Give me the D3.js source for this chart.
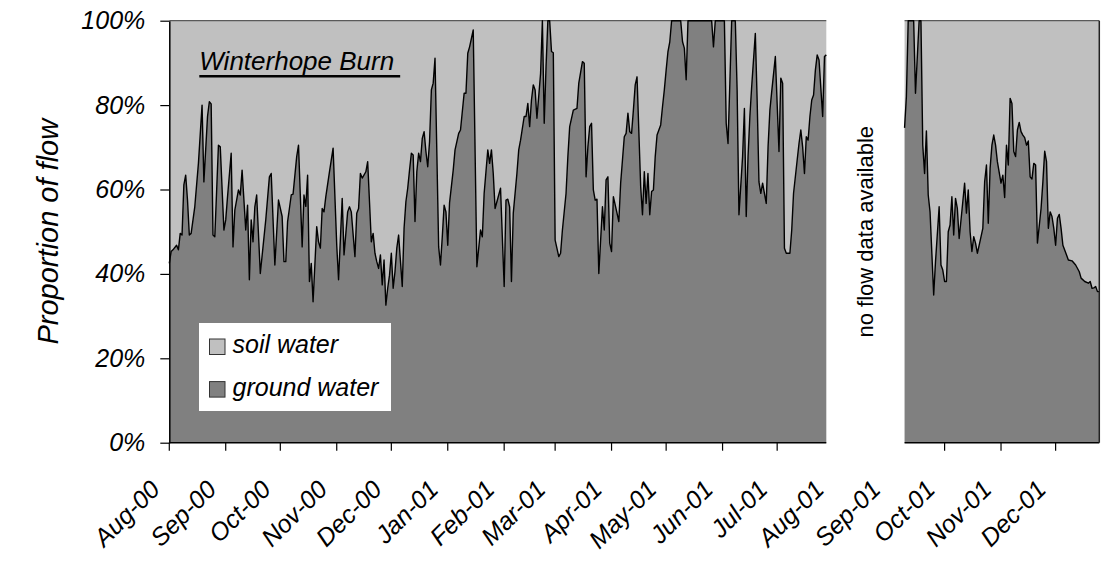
<!DOCTYPE html>
<html><head><meta charset="utf-8">
<script src="https://cdn.jsdelivr.net/npm/d3@7"></script>
<style>
html,body{margin:0;padding:0;background:#fff;}
svg{display:block;font-family:"Liberation Sans",Arial,sans-serif;}
</style></head><body>
<svg id="chart" width="1112" height="563"></svg>
<script>
// ---------------- data ----------------
const startDate = "2000-08-01";   // day 0 of the record
const axisEnd   = "2001-12-25";   // end of the time axis
// Panel 1: days since start / ground-water share of flow (%)
const days1 = [0,1,2,4,5,6,7,8,9,10,11,12,14,16,18,19,21,22,23,24,25,27,28,30,31,32,34,35,36,38,39,40,42,43,44,45,46,47,48,50,53,55,56,58,60,62,63,64,65,66,67,68,70,71,73,74,75,76,77,78,79,81,82,83,84,85,86,88,90,92,93,95,96,98,99,100,102,103,104,105,106,108,109,110,111,112,113,114,115,116,117,118,119,120,121,122,123,124,125,126,128,129,130,131,132,133,134,135,136,137,138,139,140,141,142,143,144,145,146,148,149,150,151,152,153,154,156,157,159,160,162,163,164,165,167,169,171,172,173,175,176,177,178,179,182,184,185,186,187,188,189,191,192,193,195,196,197,198,199,200,201,202,204,205,206,207,208,209,210,211,212,214,215,216,218,219,220,222,224,225,227,228,229,230,231,232,233,234,235,236,238,239,240,241,242,243,244,246,247,248,249,250,251,252,253,254,255,256,257,259,260,261,262,263,264,265,266,267,268,270,271,272,273,274,275,276,281,282,283,284,285,298,299,300,305,306,307,308,309,311,312,313,315,316,317,318,319,320,322,323,324,325,326,327,328,329,330,331,333,335,336,337,338,339,341,342,343,345,346,347,348,349,350,351,352,353,354,355,356,357,359,360,361];
const ground1 = [42.5,45.3,45.7,46.8,45.7,49.6,49.2,61.1,63.4,57.5,49.2,49.6,55.9,66.2,80.0,61.8,77.3,80.8,80.3,49.2,48.8,70.5,70.1,50.4,52.8,58.3,68.6,46.4,55.1,59.9,58.7,64.6,50.4,56.3,38.6,52.8,47.6,55.9,58.7,40.1,52.8,63.0,63.8,42.1,57.5,53.6,42.9,42.9,52.4,55.5,58.7,58.9,67.8,70.5,46.4,58.7,56.0,63.4,38.2,42.5,33.4,51.2,47.6,46.1,55.5,54.7,58.3,64.2,69.8,46.8,38.6,57.9,44.5,54.7,55.9,54.7,44.1,54.4,55.5,63.8,62.7,64.2,66.6,57.1,47.6,49.6,44.9,42.9,41.3,44.5,37.4,43.3,32.6,36.6,39.7,44.9,36.6,40.5,46.1,49.2,37.0,50.8,57.1,60.3,64.6,68.6,68.2,52.4,64.2,68.6,66.6,72.1,73.7,69.0,65.4,71.3,83.6,85.2,91.1,46.4,42.1,48.8,56.3,54.7,46.8,56.9,64.6,69.4,73.3,74.1,82.8,82.8,92.3,93.8,97.8,41.7,50.4,48.8,59.1,69.4,66.2,69.4,63.8,55.5,60.3,37.0,57.5,57.7,55.9,38.2,54.4,63.8,69.4,71.7,77.3,77.3,80.4,74.9,81.2,84.8,83.6,76.9,87.5,100,75.7,89.1,100,100,92.7,92.4,48.0,44.1,44.9,50.4,59.1,67.8,74.9,78.8,79.2,85.2,90.3,89.9,63.0,70.1,74.9,75.7,59.9,57.5,57.7,40.1,55.9,50.4,62.3,63.0,47.3,45.3,58.3,54.4,52.4,61.5,67.0,72.5,73.3,78.1,73.7,73.3,78.8,84.8,86.7,60.7,54.0,64.2,56.7,63.8,54.0,59.5,59.9,67.8,72.9,75.3,79.6,83.6,88.3,92.7,95.0,100,100,95.0,93.5,86.0,100,100,93.8,100,100,75.7,70.9,85.2,100,100,83.6,54.0,67.8,79.2,53.6,67.8,77.3,84.4,97.0,81.2,61.8,59.1,61.5,59.1,56.7,70.1,78.8,83.2,91.5,69.0,86.4,85.2,46.1,44.9,44.9,50.4,59.1,67.0,70.9,74.1,70.1,63.8,72.5,71.7,77.3,81.2,82.4,88.3,91.9,90.7,77.3,91.5,91.9];
// Panel 2 (after the gap in flow data)
const days2 = [404,405,406,409,410,412,413,414,415,416,417,418,420,421,423,424,425,426,427,428,429,430,431,432,433,434,436,437,438,439,440,441,442,443,444,445,447,448,449,450,451,452,453,454,455,457,458,459,460,461,462,463,464,465,466,467,468,469,470,471,472,473,474,475,476,477,479,480,481,482,483,484,485,486,487,488,489,490,491,493,494,496,498,500,501,503,505,506,507,508,509,510,511];
const ground2 = [74.6,82.0,100,100,82.8,100,100,70.5,63.8,73.9,58.7,54.7,35.0,42.9,55.9,42.1,40.9,38.2,38.2,50.0,51.6,58.3,49.2,57.9,55.5,48.4,57.1,61.5,54.4,59.9,50.0,45.3,48.8,47.3,44.9,46.8,50.8,61.8,65.8,52.0,65.0,70.5,72.9,70.5,66.6,61.5,63.4,58.1,70.5,65.8,81.6,80.4,69.0,67.8,74.1,75.9,73.7,72.9,72.3,70.5,71.5,63.0,62.5,66.2,65.8,47.3,55.5,61.8,69.1,66.6,50.8,54.7,53.6,50.8,46.8,53.2,54.1,50.8,46.8,44.5,43.3,43.1,42.1,40.5,39.0,38.2,37.8,38.2,36.6,36.7,37.0,35.8,35.8];
const yTicks = [0, 20, 40, 60, 80, 100];
const monthLabels = ["Aug-00","Sep-00","Oct-00","Nov-00","Dec-00","Jan-01","Feb-01","Mar-01","Apr-01","May-01","Jun-01","Jul-01","Aug-01","Sep-01","Oct-01","Nov-01","Dec-01"];
const seriesNames = ["soil water", "ground water"];
const chartTitle = "Winterhope Burn";
const yTitle = "Proportion of flow";
const gapNote = "no flow data available";

// ---------------- drawing ----------------
(function () {
const parse = d3.utcParse("%Y-%m-%d");
const t0 = parse(startDate);
const toDate = d => d3.utcDay.offset(t0, d);
const seg1 = days1.map((d, i) => ({date: toDate(d), g: ground1[i]}));
const seg2 = days2.map((d, i) => ({date: toDate(d), g: ground2[i]}));
const segments = [seg1, seg2];

const pLeft = 169.3, pRight = 1099.3, pTop = 20.7, pBottom = 442.7;
const x = d3.scaleUtc().domain([t0, parse(axisEnd)]).range([pLeft, pRight]);
const y = d3.scaleLinear().domain([0, 100]).range([pBottom, pTop]);

const svg = d3.select("#chart");
const C_SOIL = "#c0c0c0", C_GROUND = "#808080";

const soilArea = d3.area().x(d => x(d.date)).y0(d => y(d.g)).y1(() => y(100));
const groundArea = d3.area().x(d => x(d.date)).y0(() => y(0)).y1(d => y(d.g));
const gLine = d3.line().x(d => x(d.date)).y(d => y(d.g));

segments.forEach(seg => {
  const x0 = x(seg[0].date), x1 = x(seg[seg.length - 1].date);
  svg.append("path").datum(seg).attr("d", soilArea).attr("fill", C_SOIL);
  svg.append("path").datum(seg).attr("d", groundArea).attr("fill", C_GROUND);
  svg.append("line").attr("x1", x0).attr("x2", x1).attr("y1", y(100)).attr("y2", y(100))
    .attr("stroke", "#5a5a5a").attr("stroke-width", 1.2);
  svg.append("path").datum(seg).attr("d", gLine).attr("fill", "none")
    .attr("stroke", "#000").attr("stroke-width", 1.4).attr("stroke-linejoin", "round");
  svg.append("line").attr("x1", x0).attr("x2", x1).attr("y1", y(0)).attr("y2", y(0))
    .attr("stroke", "#000").attr("stroke-width", 1.5);
});
const xr = x(seg2[seg2.length - 1].date);
svg.append("line").attr("x1", xr).attr("x2", xr).attr("y1", y(100)).attr("y2", y(0))
  .attr("stroke", "#222").attr("stroke-width", 1.5);

// Y axis
const yAxis = d3.axisLeft(y).tickValues(yTicks).tickSize(9).tickSizeOuter(0).tickPadding(15)
  .tickFormat(d => d + "%");
const gy = svg.append("g").attr("transform", `translate(${pLeft},0)`).call(yAxis);
gy.select(".domain").attr("stroke", "#000").attr("stroke-width", 1.5);
gy.selectAll(".tick line").attr("stroke", "#000").attr("stroke-width", 1.2);
gy.selectAll(".tick text").attr("font-size", 25).attr("font-style", "italic")
  .attr("font-family", "Liberation Sans, Arial, sans-serif").attr("fill", "#000");

// X ticks (months) and labels
const months = d3.utcMonth.range(t0, d3.utcMonth.offset(t0, monthLabels.length));
const inPanel = m => segments.some(seg => m >= seg[0].date && m <= seg[seg.length - 1].date);
svg.append("g").selectAll("line").data(months.filter(inPanel)).join("line")
  .attr("x1", d => x(d)).attr("x2", d => x(d)).attr("y1", y(0)).attr("y2", y(0) + 8)
  .attr("stroke", "#000").attr("stroke-width", 1.2);
svg.append("g").selectAll("text").data(months).join("text")
  .attr("transform", d => `translate(${x(d) - 8},491) rotate(-45)`)
  .attr("text-anchor", "end").attr("font-size", 25).attr("font-style", "italic")
  .text((d, i) => monthLabels[i]);

// Y title
svg.append("text").attr("transform", `translate(58,${(pTop + pBottom) / 2}) rotate(-90)`)
  .attr("text-anchor", "middle").attr("font-size", 29).attr("font-style", "italic").text(yTitle);

// Gap note
const gapMid = (x(seg1[seg1.length - 1].date) + x(seg2[0].date)) / 2;
svg.append("text").attr("transform", `translate(${gapMid + 8},${(pTop + pBottom) / 2}) rotate(-90)`)
  .attr("text-anchor", "middle").attr("font-size", 22).text(gapNote);

// Title with underline
const tt = svg.append("text").attr("x", 199.3).attr("y", 70).attr("font-size", 26)
  .attr("font-style", "italic").text(chartTitle);
const tw = tt.node().getComputedTextLength();
svg.append("line").attr("x1", 199.3).attr("x2", 199.3 + tw + 6).attr("y1", 76.2).attr("y2", 76.2)
  .attr("stroke", "#000").attr("stroke-width", 2.6);

// Legend
const lg = svg.append("g");
lg.append("rect").attr("x", 199).attr("y", 323).attr("width", 192).attr("height", 88).attr("fill", "#fff");
const legendColors = [C_SOIL, C_GROUND];
seriesNames.forEach((name, i) => {
  const yy = 339 + i * 42.6;
  lg.append("rect").attr("x", 209.5).attr("y", yy).attr("width", 15.5).attr("height", 15.5)
    .attr("fill", legendColors[i]).attr("stroke", "#333").attr("stroke-width", 1);
  lg.append("text").attr("x", 232.5).attr("y", yy + 14).attr("font-size", 25)
    .attr("font-style", "italic").text(name);
});
})();
</script>
</body></html>
